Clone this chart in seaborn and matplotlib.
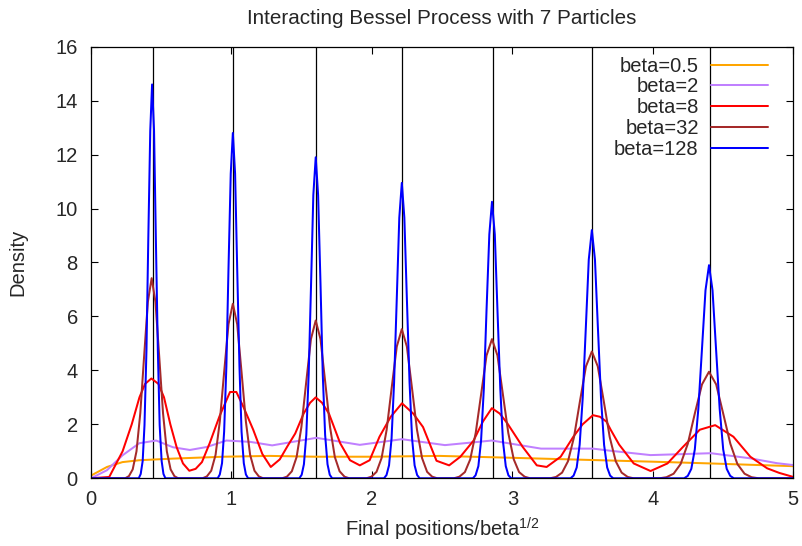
import numpy as np
import pandas as pd
import matplotlib
matplotlib.use("Agg")
import matplotlib.pyplot as plt
import seaborn as sns

# vertical reference lines (sqrt of the Laguerre zeros)
ref_lines = [0.440, 1.013, 1.602, 2.214, 2.860, 3.568, 4.404]

# beta=0.5
x_b05 = [0.0, 0.114, 0.224, 0.344, 0.584, 0.944, 1.274, 1.6, 2.0, 2.484, 2.86, 3.204, 3.624, 4.104, 4.414, 4.7, 5.0]
d_b05 = [0.1, 0.42, 0.6, 0.67, 0.73, 0.8, 0.83, 0.8, 0.8, 0.83, 0.78, 0.73, 0.67, 0.6, 0.55, 0.5, 0.45]

# beta=2
x_b2 = [0.0, 0.114, 0.224, 0.344, 0.464, 0.584, 0.704, 0.824, 0.964, 1.134, 1.29, 1.604, 1.914,
        2.214, 2.52, 2.854, 3.204, 3.574, 3.70, 3.984, 4.414, 4.694, 4.884, 5.0]
d_b2 = [0.0, 0.3, 0.85, 1.3, 1.4, 1.15, 1.05, 1.16, 1.4, 1.35, 1.22, 1.5, 1.24,
        1.45, 1.23, 1.4, 1.1, 1.1, 1.02, 0.86, 0.93, 0.74, 0.56, 0.49]

# beta=8
x_b8 = [0.0, 0.13, 0.225, 0.29, 0.345, 0.385, 0.43, 0.48, 0.52, 0.565,
        0.61, 0.655, 0.70, 0.745, 0.79, 0.845, 0.915, 0.99, 1.035, 1.085,
        1.155, 1.22, 1.28, 1.344, 1.40, 1.454, 1.514, 1.56, 1.60, 1.645,
        1.694, 1.774, 1.844, 1.914, 1.984, 2.054, 2.134, 2.214, 2.294, 2.364,
        2.46, 2.55, 2.63, 2.724, 2.79, 2.854, 2.91, 2.964, 3.074, 3.174,
        3.244, 3.344, 3.434, 3.50, 3.574, 3.624, 3.67, 3.70, 3.76, 3.864,
        3.984, 4.104, 4.214, 4.334, 4.444, 4.574, 4.694, 4.814, 4.90, 5.0]
d_b8 = [0.0, 0.05, 1.0, 2.0, 3.0, 3.5, 3.7, 3.5, 3.0, 2.0,
        1.15, 0.55, 0.28, 0.35, 0.6, 1.3, 2.3, 3.2, 3.2, 2.65,
        1.8, 0.9, 0.42, 0.7, 1.2, 1.66, 2.4, 2.8, 3.0, 2.8,
        2.4, 1.3, 0.67, 0.48, 0.67, 1.54, 2.28, 2.78, 2.4, 1.9,
        0.65, 0.48, 0.8, 1.4, 2.1, 2.6, 2.4, 2.04, 1.16, 0.48,
        0.42, 0.8, 1.54, 2.0, 2.34, 2.28, 2.1, 1.8, 1.25, 0.55,
        0.27, 0.55, 1.16, 1.8, 1.97, 1.54, 0.8, 0.37, 0.2, 0.05]

# beta=32, one row per peak
x_b32 = [0.0,
         0.243, 0.27, 0.297, 0.324, 0.351, 0.378, 0.405, 0.432, 0.459, 0.486, 0.513, 0.54, 0.567, 0.594, 0.621,
         0.794, 0.825, 0.856, 0.887, 0.917, 0.948, 0.979, 1.01, 1.041, 1.072, 1.103, 1.133, 1.164, 1.195, 1.226,
         1.361, 1.395, 1.43, 1.464, 1.498, 1.532, 1.566, 1.60, 1.634, 1.668, 1.702, 1.736, 1.77, 1.805, 1.839,
         1.961, 1.997, 2.033, 2.069, 2.105, 2.141, 2.177, 2.213, 2.249, 2.285, 2.321, 2.357, 2.393, 2.429, 2.465,
         2.584, 2.623, 2.662, 2.70, 2.739, 2.778, 2.816, 2.855, 2.894, 2.932, 2.971, 3.01, 3.048, 3.087, 3.126,
         3.269, 3.311, 3.354, 3.396, 3.439, 3.481, 3.524, 3.566, 3.608, 3.651, 3.693, 3.736, 3.778, 3.821, 3.863,
         4.047, 4.097, 4.148, 4.198, 4.249, 4.299, 4.35, 4.40, 4.451, 4.501, 4.552, 4.602, 4.653, 4.703, 4.754,
         5.0]
d_b32 = [0.0,
         0.0, 0.08, 0.33, 1.0, 2.41, 4.5, 6.54, 7.42, 6.54, 4.5, 2.41, 1.0, 0.33, 0.08, 0.0,
         0.0, 0.07, 0.28, 0.87, 2.10, 3.93, 5.71, 6.47, 5.71, 3.93, 2.10, 0.87, 0.28, 0.07, 0.0,
         0.0, 0.06, 0.26, 0.79, 1.90, 3.55, 5.16, 5.85, 5.16, 3.55, 1.90, 0.79, 0.26, 0.06, 0.0,
         0.0, 0.06, 0.24, 0.75, 1.80, 3.36, 4.88, 5.53, 4.88, 3.36, 1.80, 0.75, 0.24, 0.06, 0.0,
         0.0, 0.06, 0.23, 0.70, 1.68, 3.13, 4.55, 5.16, 4.55, 3.13, 1.68, 0.70, 0.23, 0.06, 0.0,
         0.0, 0.05, 0.21, 0.63, 1.53, 2.85, 4.15, 4.7, 4.15, 2.85, 1.53, 0.63, 0.21, 0.05, 0.0,
         0.0, 0.04, 0.17, 0.53, 1.28, 2.40, 3.48, 3.95, 3.48, 2.40, 1.28, 0.53, 0.17, 0.04, 0.0,
         0.0]

# beta=128, one row per peak
x_b128 = [0.0,
          0.34, 0.354, 0.368, 0.381, 0.395, 0.408, 0.422, 0.435, 0.449, 0.462, 0.476, 0.489, 0.503, 0.516, 0.53,
          0.902, 0.917, 0.933, 0.948, 0.964, 0.979, 0.995, 1.01, 1.026, 1.041, 1.057, 1.072, 1.088, 1.103, 1.119,
          1.483, 1.50, 1.516, 1.533, 1.55, 1.567, 1.583, 1.60, 1.617, 1.634, 1.65, 1.667, 1.684, 1.70, 1.717,
          2.086, 2.104, 2.122, 2.14, 2.158, 2.177, 2.195, 2.213, 2.231, 2.249, 2.268, 2.286, 2.304, 2.322, 2.34,
          2.719, 2.738, 2.758, 2.777, 2.797, 2.816, 2.836, 2.855, 2.875, 2.894, 2.914, 2.933, 2.953, 2.972, 2.992,
          3.414, 3.436, 3.458, 3.479, 3.501, 3.523, 3.544, 3.566, 3.588, 3.609, 3.631, 3.653, 3.675, 3.696, 3.718,
          4.223, 4.249, 4.274, 4.299, 4.324, 4.35, 4.375, 4.40, 4.425, 4.45, 4.476, 4.501, 4.526, 4.551, 4.577,
          5.0]
d_b128 = [0.0,
          0.0, 0.16, 0.64, 1.97, 4.75, 8.86, 12.88, 14.6, 12.88, 8.86, 4.75, 1.97, 0.64, 0.16, 0.0,
          0.0, 0.14, 0.56, 1.73, 4.16, 7.77, 11.29, 12.8, 11.29, 7.77, 4.16, 1.73, 0.56, 0.14, 0.0,
          0.0, 0.13, 0.52, 1.61, 3.87, 7.22, 10.5, 11.9, 10.5, 7.22, 3.87, 1.61, 0.52, 0.13, 0.0,
          0.0, 0.12, 0.48, 1.48, 3.56, 6.65, 9.66, 10.95, 9.66, 6.65, 3.56, 1.48, 0.48, 0.12, 0.0,
          0.0, 0.11, 0.45, 1.38, 3.33, 6.22, 9.04, 10.25, 9.04, 6.22, 3.33, 1.38, 0.45, 0.11, 0.0,
          0.0, 0.10, 0.40, 1.24, 2.99, 5.58, 8.11, 9.2, 8.11, 5.58, 2.99, 1.24, 0.40, 0.10, 0.0,
          0.0, 0.09, 0.35, 1.07, 2.57, 4.80, 6.97, 7.9, 6.97, 4.80, 2.57, 1.07, 0.35, 0.09, 0.0,
          0.0]

labels = ["beta=0.5", "beta=2", "beta=8", "beta=32", "beta=128"]
colors = ["#ffa500", "#c080ff", "#ff0000", "#a52a2a", "#0000ff"]

series = [(x_b05, d_b05), (x_b2, d_b2), (x_b8, d_b8), (x_b32, d_b32), (x_b128, d_b128)]
df = pd.concat(
    [pd.DataFrame({"x": xs, "density": ds, "beta": lab}) for (xs, ds), lab in zip(series, labels)],
    ignore_index=True,
)

sns.set_theme(style="ticks")
plt.rcParams["font.family"] = ["Liberation Sans", "DejaVu Sans"]
plt.rcParams["mathtext.default"] = "regular"

fig = plt.figure(figsize=(8.03, 5.46), dpi=100)
ax = fig.add_axes([0.1133, 0.124, 0.8746, 0.7905])

ax.vlines(ref_lines, 0, 16, color="black", lw=0.9, zorder=1.5)

sns.lineplot(data=df, x="x", y="density", hue="beta", hue_order=labels,
             palette=dict(zip(labels, colors)), estimator=None, sort=False,
             lw=1.45, ax=ax)

ax.set_xlim(0, 5)
ax.set_ylim(0, 16)
ax.set_xticks(range(0, 6))
ax.set_yticks(range(0, 17, 2))
ax.tick_params(direction="in", length=5, width=0.8, top=True, right=True,
               labelsize=14.5, color="black")
ax.tick_params(axis="y", pad=9.5)
ax.tick_params(axis="x", pad=8.5)
for s in ax.spines.values():
    s.set_color("black")
    s.set_linewidth(0.9)

ax.set_title("Interacting Bessel Process with 7 Particles", fontsize=14.9, pad=16)
ax.set_xlabel("Final positions/beta$^{1/2}$", fontsize=14.5, labelpad=5)
ax.set_ylabel("Density", fontsize=14.5, labelpad=20.5)

handles, labs = ax.get_legend_handles_labels()
ax.legend(handles, labs, loc="upper right", bbox_to_anchor=(0.9644, 0.977),
          frameon=False, markerfirst=False, fontsize=14.5, handlelength=2.82,
          handletextpad=0.63, labelspacing=0.09, borderpad=0, borderaxespad=0)

fig.savefig("out.png", dpi=100)
